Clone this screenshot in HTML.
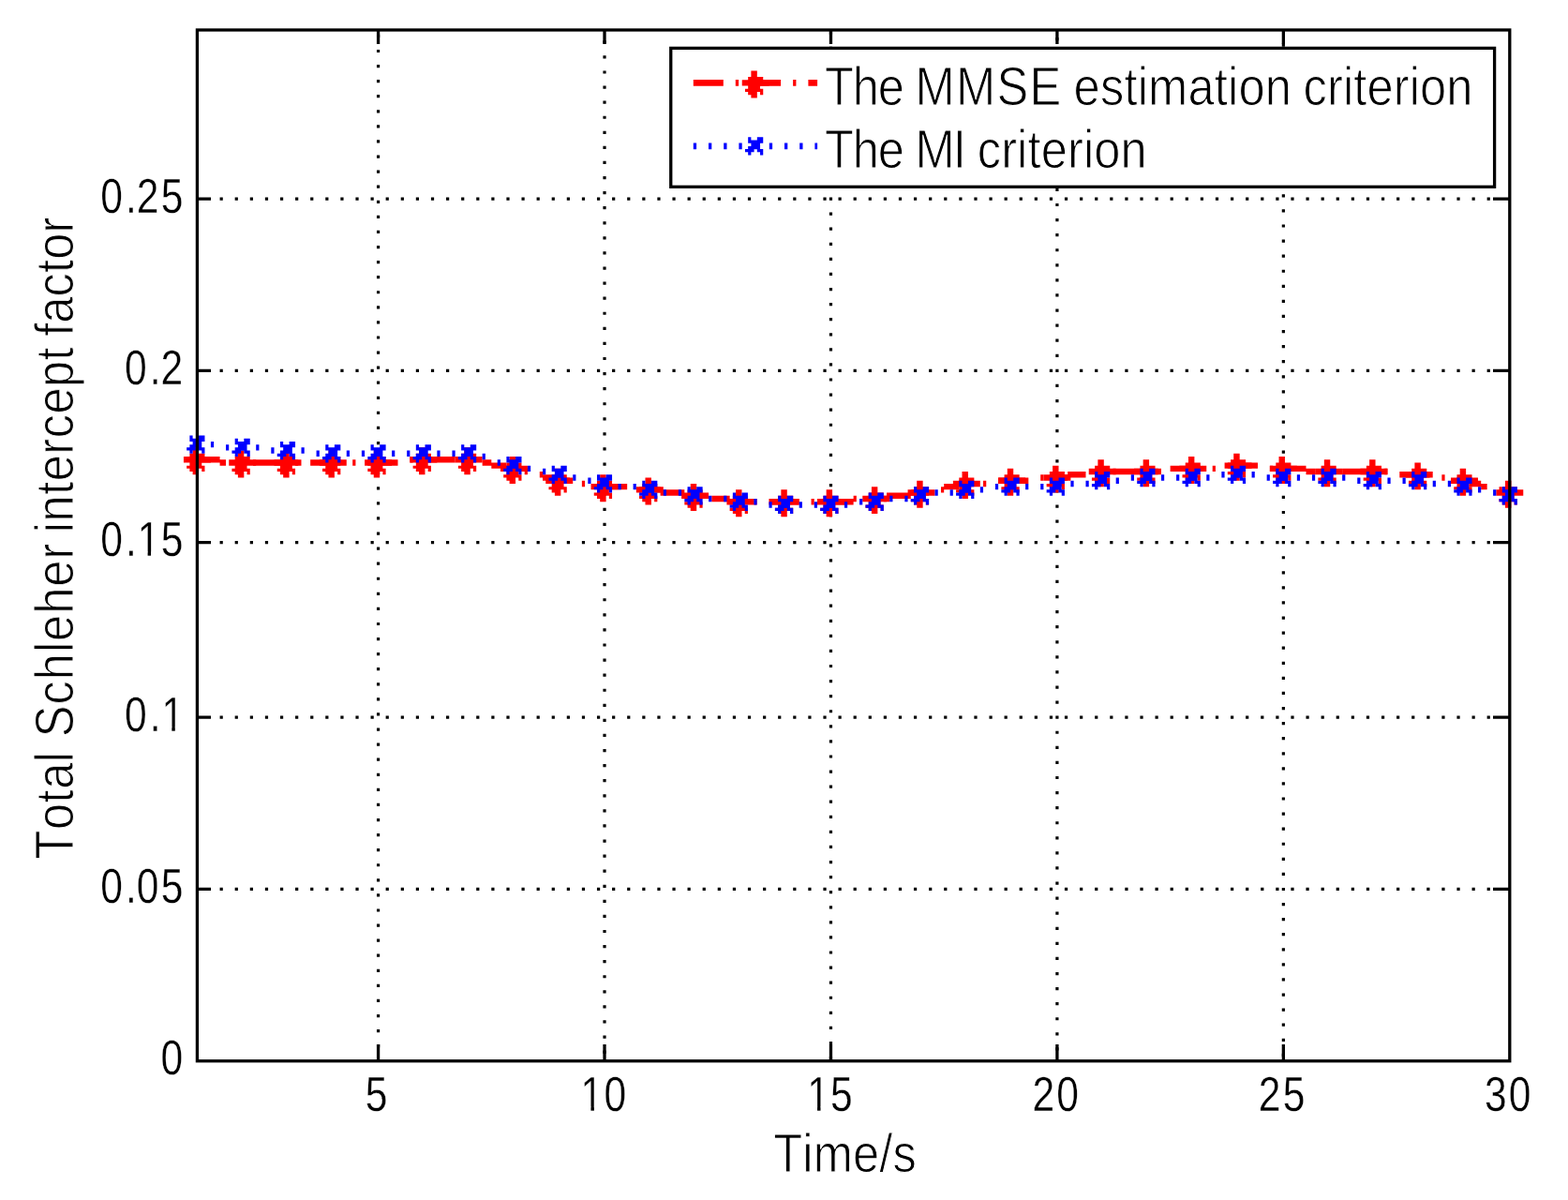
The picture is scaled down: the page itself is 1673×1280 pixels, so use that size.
<!DOCTYPE html>
<html lang="en">
<head>
<meta charset="utf-8">
<title>Total Schleher intercept factor</title>
<style>
html,body{margin:0;padding:0;background:#fff;}
body{width:1673px;height:1280px;overflow:hidden;}
svg{display:block;}
text{font-family:"Liberation Sans",sans-serif;font-kerning:none;white-space:pre;fill:#000;stroke:#fff;stroke-width:0.9px;}
.tk{stroke-width:0.3px;}
.grid{stroke:#000;stroke-width:3.2;fill:none;}
.ax{stroke:#000;stroke-width:3.3;fill:none;}
.rl{stroke:#f00;stroke-width:6.7;fill:none;stroke-dasharray:32 13 3.3 13;}
.bl{stroke:#00f;stroke-width:6.7;fill:none;stroke-dasharray:3.3 12.9;}
</style>
</head>
<body>
<svg width="1673" height="1280" viewBox="0 0 1673 1280">
<rect x="0" y="0" width="1673" height="1280" fill="#fff"/>
<defs>
<path id="ast" fill="#f00" d="M-3.216,-12.866H3.216V16.082H-3.216ZM-12.866,-3.216H16.082V3.216H-12.866ZM-6.433,-6.433H9.649V-3.216H-6.433ZM-6.433,3.216H6.433V6.433H-6.433ZM-9.649,6.433H9.649V9.649H-9.649ZM-6.433,9.649H3.216V12.866H-6.433ZM6.433,9.649H9.649V12.866H6.433Z"/>
<path id="crs" fill="#00f" d="M-6.433,-9.649H-3.216V-6.433H-6.433ZM3.216,-9.649H9.649V-6.433H3.216ZM-6.433,-6.433H9.649V-3.216H-6.433ZM-3.216,-3.216H6.433V0H-3.216ZM-6.433,0H6.433V3.216H-6.433ZM-9.649,3.216H0V6.433H-9.649ZM3.216,3.216H9.649V6.433H3.216ZM-6.433,6.433H-3.216V9.649H-6.433ZM6.433,6.433H9.649V9.649H6.433Z"/>
</defs>
<g class="grid" stroke-dasharray="3.216 12.863">
<line x1="403.576" y1="36.804" x2="403.576" y2="1130.132"/>
<line x1="645.021" y1="43.235" x2="645.021" y2="1130.132"/>
<line x1="886.466" y1="33.588" x2="886.466" y2="1130.132"/>
<line x1="1127.91" y1="40.019" x2="1127.91" y2="1130.132"/>
<line x1="1369.355" y1="46.451" x2="1369.355" y2="1130.132"/>
</g>
<g class="grid" stroke-dasharray="3.219 12.877">
<line x1="234.564" y1="948.4" x2="1591.484" y2="948.4"/>
<line x1="234.564" y1="765.1" x2="1591.484" y2="765.1"/>
<line x1="234.564" y1="578.55" x2="1591.484" y2="578.55"/>
<line x1="234.564" y1="395.35" x2="1591.484" y2="395.35"/>
<line x1="234.564" y1="212.15" x2="1591.484" y2="212.15"/>
</g>
<path fill="#f00" d="M208.81,486.998H234.564V493.429H208.81ZM234.564,490.213H241.003V496.645H234.564ZM253.88,490.213H257.099V496.645H253.88ZM269.976,490.213H302.169V496.645H269.976ZM315.046,490.213H318.265V496.645H315.046ZM331.142,490.213H363.335V496.645H331.142ZM376.212,490.213H379.431V496.645H376.212ZM392.308,490.213H424.501V496.645H392.308ZM437.378,486.998H440.597V493.429H437.378ZM453.474,486.998H485.667V493.429H453.474ZM498.544,486.998H501.763V493.429H498.544ZM514.64,490.213H524.298V496.645H514.64ZM524.298,493.429H540.395V499.86H524.298ZM540.395,496.645H546.833V503.076H540.395ZM559.71,499.86H562.929V506.292H559.71ZM575.807,503.076H579.026V509.507H575.807ZM579.026,506.292H591.903V512.723H579.026ZM591.903,509.507H607.999V515.939H591.903ZM620.876,512.723H624.095V519.154H620.876ZM636.973,515.939H669.165V522.37H636.973ZM682.042,519.154H685.261V525.586H682.042ZM698.139,519.154H704.577V525.586H698.139ZM704.577,522.37H730.331V528.801H704.577ZM743.208,525.586H746.428V532.017H743.208ZM759.305,528.801H778.62V535.233H759.305ZM778.62,532.017H791.497V538.448H778.62ZM804.374,532.017H807.594V538.448H804.374ZM820.471,532.017H852.663V538.448H820.471ZM865.54,532.017H868.76V538.448H865.54ZM881.637,532.017H910.61V538.448H881.637ZM910.61,528.801H913.829V535.233H910.61ZM926.706,528.801H929.926V535.233H926.706ZM942.803,528.801H946.022V535.233H942.803ZM946.022,525.586H971.776V532.017H946.022ZM971.776,522.37H974.995V528.801H971.776ZM987.872,522.37H991.092V528.801H987.872ZM1003.969,519.154H1007.188V525.586H1003.969ZM1007.188,515.939H1023.284V522.37H1007.188ZM1023.284,512.723H1036.161V519.154H1023.284ZM1049.038,512.723H1052.258V519.154H1049.038ZM1065.135,509.507H1097.327V515.939H1065.135ZM1110.204,506.292H1113.424V512.723H1110.204ZM1126.301,506.292H1139.178V512.723H1126.301ZM1139.178,503.076H1158.493V509.507H1139.178ZM1171.37,499.86H1174.59V506.292H1171.37ZM1187.467,499.86H1219.659V506.292H1187.467ZM1232.536,499.86H1235.756V506.292H1232.536ZM1248.633,496.645H1280.825V503.076H1248.633ZM1293.702,496.645H1296.922V503.076H1293.702ZM1309.799,493.429H1341.991V499.86H1309.799ZM1354.868,496.645H1358.088V503.076H1354.868ZM1370.965,496.645H1393.5V503.076H1370.965ZM1393.5,499.86H1403.157V506.292H1393.5ZM1416.035,499.86H1419.254V506.292H1416.035ZM1432.131,499.86H1464.323V506.292H1432.131ZM1477.201,499.86H1480.42V506.292H1477.201ZM1493.297,503.076H1525.489V509.507H1493.297ZM1538.367,506.292H1541.586V512.723H1538.367ZM1554.463,509.507H1567.34V515.939H1554.463ZM1567.34,512.723H1580.217V519.154H1567.34ZM1580.217,515.939H1586.656V522.37H1580.217ZM1599.533,519.154H1602.752V525.586H1599.533Z"/>
<use href="#ast" x="208.81" y="490.213"/>
<use href="#ast" x="257.099" y="493.429"/>
<use href="#ast" x="305.388" y="493.429"/>
<use href="#ast" x="353.677" y="493.429"/>
<use href="#ast" x="401.966" y="493.429"/>
<use href="#ast" x="450.255" y="490.213"/>
<use href="#ast" x="498.544" y="490.213"/>
<use href="#ast" x="546.833" y="499.86"/>
<use href="#ast" x="595.122" y="512.723"/>
<use href="#ast" x="643.411" y="519.154"/>
<use href="#ast" x="691.7" y="522.37"/>
<use href="#ast" x="739.989" y="528.801"/>
<use href="#ast" x="788.278" y="535.233"/>
<use href="#ast" x="836.567" y="535.233"/>
<use href="#ast" x="884.856" y="535.233"/>
<use href="#ast" x="933.145" y="532.017"/>
<use href="#ast" x="981.434" y="525.586"/>
<use href="#ast" x="1029.723" y="515.939"/>
<use href="#ast" x="1078.012" y="512.723"/>
<use href="#ast" x="1126.301" y="509.507"/>
<use href="#ast" x="1174.59" y="503.076"/>
<use href="#ast" x="1222.879" y="503.076"/>
<use href="#ast" x="1271.168" y="499.86"/>
<use href="#ast" x="1319.457" y="496.645"/>
<use href="#ast" x="1367.746" y="499.86"/>
<use href="#ast" x="1416.035" y="503.076"/>
<use href="#ast" x="1464.323" y="503.076"/>
<use href="#ast" x="1512.612" y="506.292"/>
<use href="#ast" x="1560.901" y="512.723"/>
<use href="#ast" x="1609.19" y="525.586"/>
<path fill="#00f" d="M208.81,470.919H212.03V477.351H208.81ZM224.907,470.919H228.126V477.351H224.907ZM241.003,474.135H244.222V480.566H241.003ZM257.099,474.135H260.319V480.566H257.099ZM273.196,474.135H276.415V480.566H273.196ZM289.292,477.351H292.511V483.782H289.292ZM305.388,477.351H308.608V483.782H305.388ZM321.485,477.351H324.704V483.782H321.485ZM337.581,480.566H340.8V486.998H337.581ZM353.677,480.566H356.897V486.998H353.677ZM369.774,480.566H372.993V486.998H369.774ZM385.87,480.566H389.089V486.998H385.87ZM401.966,480.566H405.185V486.998H401.966ZM418.063,480.566H421.282V486.998H418.063ZM434.159,480.566H437.378V486.998H434.159ZM450.255,480.566H453.474V486.998H450.255ZM466.352,480.566H469.571V486.998H466.352ZM482.448,480.566H485.667V486.998H482.448ZM498.544,480.566H501.763V486.998H498.544ZM514.64,483.782H517.86V490.213H514.64ZM530.737,490.213H533.956V496.645H530.737ZM546.833,493.429H550.052V499.86H546.833ZM562.929,496.645H566.149V503.076H562.929ZM579.026,499.86H582.245V506.292H579.026ZM595.122,503.076H598.341V509.507H595.122ZM611.218,506.292H614.438V512.723H611.218ZM627.315,509.507H630.534V515.939H627.315ZM643.411,512.723H646.63V519.154H643.411ZM659.507,515.939H662.727V522.37H659.507ZM675.604,515.939H678.823V522.37H675.604ZM691.7,519.154H694.919V525.586H691.7ZM707.796,522.37H711.016V528.801H707.796ZM723.893,522.37H727.112V528.801H723.893ZM739.989,525.586H743.208V532.017H739.989ZM756.085,528.801H759.305V535.233H756.085ZM772.182,528.801H775.401V535.233H772.182ZM788.278,532.017H791.497V538.448H788.278ZM804.374,532.017H807.594V538.448H804.374ZM820.471,535.233H823.69V541.664H820.471ZM836.567,535.233H839.786V541.664H836.567ZM852.663,535.233H855.883V541.664H852.663ZM868.76,535.233H871.979V541.664H868.76ZM884.856,535.233H888.075V541.664H884.856ZM900.952,535.233H904.171V541.664H900.952ZM917.049,532.017H920.268V538.448H917.049ZM933.145,532.017H936.364V538.448H933.145ZM949.241,528.801H952.46V535.233H949.241ZM965.337,528.801H968.557V535.233H965.337ZM981.434,525.586H984.653V532.017H981.434ZM997.53,522.37H1000.749V528.801H997.53ZM1013.626,522.37H1016.846V528.801H1013.626ZM1029.723,519.154H1032.942V525.586H1029.723ZM1045.819,519.154H1049.038V525.586H1045.819ZM1061.915,515.939H1065.135V522.37H1061.915ZM1078.012,515.939H1081.231V522.37H1078.012ZM1094.108,515.939H1097.327V522.37H1094.108ZM1110.204,515.939H1113.424V522.37H1110.204ZM1126.301,515.939H1129.52V522.37H1126.301ZM1142.397,512.723H1145.616V519.154H1142.397ZM1158.493,512.723H1161.713V519.154H1158.493ZM1174.59,509.507H1177.809V515.939H1174.59ZM1190.686,509.507H1193.905V515.939H1190.686ZM1206.782,506.292H1210.002V512.723H1206.782ZM1222.879,506.292H1226.098V512.723H1222.879ZM1238.975,506.292H1242.194V512.723H1238.975ZM1255.071,506.292H1258.291V512.723H1255.071ZM1271.168,506.292H1274.387V512.723H1271.168ZM1287.264,506.292H1290.483V512.723H1287.264ZM1303.36,503.076H1306.58V509.507H1303.36ZM1319.457,503.076H1322.676V509.507H1319.457ZM1335.553,503.076H1338.772V509.507H1335.553ZM1351.649,506.292H1354.868V512.723H1351.649ZM1367.746,506.292H1370.965V512.723H1367.746ZM1383.842,506.292H1387.061V512.723H1383.842ZM1399.938,506.292H1403.157V512.723H1399.938ZM1416.035,506.292H1419.254V512.723H1416.035ZM1432.131,506.292H1435.35V512.723H1432.131ZM1448.227,509.507H1451.446V515.939H1448.227ZM1464.323,509.507H1467.543V515.939H1464.323ZM1480.42,509.507H1483.639V515.939H1480.42ZM1496.516,509.507H1499.735V515.939H1496.516ZM1512.612,509.507H1515.832V515.939H1512.612ZM1528.709,512.723H1531.928V519.154H1528.709ZM1544.805,512.723H1548.024V519.154H1544.805ZM1560.901,515.939H1564.121V522.37H1560.901ZM1576.998,519.154H1580.217V525.586H1576.998ZM1593.094,522.37H1596.313V528.801H1593.094ZM1609.19,525.586H1612.41V532.017H1609.19Z"/>
<use href="#crs" x="208.81" y="474.135"/>
<use href="#crs" x="257.099" y="477.351"/>
<use href="#crs" x="305.388" y="480.566"/>
<use href="#crs" x="353.677" y="483.782"/>
<use href="#crs" x="401.966" y="483.782"/>
<use href="#crs" x="450.255" y="483.782"/>
<use href="#crs" x="498.544" y="483.782"/>
<use href="#crs" x="546.833" y="496.645"/>
<use href="#crs" x="595.122" y="506.292"/>
<use href="#crs" x="643.411" y="515.939"/>
<use href="#crs" x="691.7" y="522.37"/>
<use href="#crs" x="739.989" y="528.801"/>
<use href="#crs" x="788.278" y="535.233"/>
<use href="#crs" x="836.567" y="538.448"/>
<use href="#crs" x="884.856" y="538.448"/>
<use href="#crs" x="933.145" y="535.233"/>
<use href="#crs" x="981.434" y="528.801"/>
<use href="#crs" x="1029.723" y="522.37"/>
<use href="#crs" x="1078.012" y="519.154"/>
<use href="#crs" x="1126.301" y="519.154"/>
<use href="#crs" x="1174.59" y="512.723"/>
<use href="#crs" x="1222.879" y="509.507"/>
<use href="#crs" x="1271.168" y="509.507"/>
<use href="#crs" x="1319.457" y="506.292"/>
<use href="#crs" x="1367.746" y="509.507"/>
<use href="#crs" x="1416.035" y="509.507"/>
<use href="#crs" x="1464.323" y="512.723"/>
<use href="#crs" x="1512.612" y="512.723"/>
<use href="#crs" x="1560.901" y="519.154"/>
<use href="#crs" x="1609.19" y="528.801"/>
<g class="ax">
<rect x="210.42" y="31.98" width="1400.38" height="1099.76"/>
<path d="M403.576,1131.74V1114 M403.576,31.98V47"/>
<path d="M645.021,1131.74V1114 M645.021,31.98V47"/>
<path d="M886.466,1131.74V1114 M886.466,31.98V47"/>
<path d="M1127.91,1131.74V1114 M1127.91,31.98V47"/>
<path d="M1369.355,1131.74V1114 M1369.355,31.98V47"/>
<path d="M210.42,948.4H225 M1610.8,948.4H1593"/>
<path d="M210.42,765.1H225 M1610.8,765.1H1593"/>
<path d="M210.42,578.55H225 M1610.8,578.55H1593"/>
<path d="M210.42,395.35H225 M1610.8,395.35H1593"/>
<path d="M210.42,212.15H225 M1610.8,212.15H1593"/>
</g>
<rect class="ax" x="715.75" y="51.38" width="878.85" height="147.92" style="fill:#fff"/>
<line class="rl" x1="739.8" y1="88.4" x2="872.1" y2="88.4"/>
<use href="#ast" x="804.6" y="88.4"/>
<line class="bl" x1="739.8" y1="155.9" x2="872.1" y2="155.9"/>
<use href="#crs" x="804.6" y="155.9"/>
<text transform="translate(0 112) scale(1 1.15)" font-size="50.6" y="0"><tspan x="879.913" letter-spacing="-1.153">The</tspan> <tspan x="976.499" letter-spacing="1.342">MMSE</tspan> <tspan x="1145.6" letter-spacing="0.191">estimation</tspan> <tspan x="1390.6" letter-spacing="0.121">criterion</tspan></text>
<text transform="translate(0 179) scale(1 1.15)" font-size="50.6" y="0"><tspan x="879.913" letter-spacing="-1.153">The</tspan> <tspan x="976.499" letter-spacing="-1.788">MI</tspan> <tspan x="1042.7" letter-spacing="0.134">criterion</tspan></text>
<text transform="translate(0 1250) scale(1 1.15)" font-size="50.6" y="0"><tspan x="825.313" letter-spacing="0.133">Time/s</tspan></text>
<text transform="translate(77.5 914.9) rotate(-90) scale(1 1.15)" font-size="50.6" y="0"><tspan x="-1.587" letter-spacing="0.508">Total</tspan> <tspan x="128.752" letter-spacing="0.962">Schleher</tspan> <tspan x="346.765" letter-spacing="0.473">intercept</tspan> <tspan x="556.033" letter-spacing="0.121">factor</tspan></text>
<text class="tk" transform="translate(0 1185) scale(1 1.2040)" font-size="42.6" x="389.662" y="0">5</text>
<text class="tk" transform="translate(0 1185) scale(1 1.2040)" font-size="42.6" x="619.579 644.452" y="0">10</text>
<rect x="621.659" y="1180.568" width="8.782" height="5.832" fill="#fff"/><rect x="633.907" y="1180.568" width="8.404" height="5.832" fill="#fff"/>
<text class="tk" transform="translate(0 1185) scale(1 1.2040)" font-size="42.6" x="861.179 886.094" y="0">15</text>
<rect x="863.259" y="1180.568" width="8.782" height="5.832" fill="#fff"/><rect x="875.507" y="1180.568" width="8.404" height="5.832" fill="#fff"/>
<text class="tk" transform="translate(0 1185) scale(1 1.2040)" font-size="42.6" x="1101.43 1127.162" y="0">20</text>
<text class="tk" transform="translate(0 1185) scale(1 1.2040)" font-size="42.6" x="1342.875 1368.649" y="0">25</text>
<text class="tk" transform="translate(0 1185) scale(1 1.2040)" font-size="42.6" x="1584.045 1609.652" y="0">30</text>
<text class="tk" transform="translate(0 1146) scale(1 1.2040)" font-size="42.6" x="171.604" y="0">0</text>
<text class="tk" transform="translate(0 963) scale(1 1.2040)" font-size="42.6" x="107.274 134.11 145.872 171.646" y="0">0.05</text>
<text class="tk" transform="translate(0 780) scale(1 1.2040)" font-size="42.6" x="133.006 159.842 172.464" y="0">0.1</text>
<rect x="174.544" y="775.568" width="8.782" height="5.832" fill="#fff"/><rect x="186.791" y="775.568" width="8.404" height="5.832" fill="#fff"/>
<text class="tk" transform="translate(0 593) scale(1 1.2040)" font-size="42.6" x="107.274 134.11 146.732 171.646" y="0">0.15</text>
<rect x="148.812" y="588.568" width="8.782" height="5.832" fill="#fff"/><rect x="161.059" y="588.568" width="8.404" height="5.832" fill="#fff"/>
<text class="tk" transform="translate(0 410) scale(1 1.2040)" font-size="42.6" x="133.006 159.842 171.604" y="0">0.2</text>
<text class="tk" transform="translate(0 227) scale(1 1.2040)" font-size="42.6" x="107.274 134.11 145.872 171.646" y="0">0.25</text>
</svg>
</body>
</html>
